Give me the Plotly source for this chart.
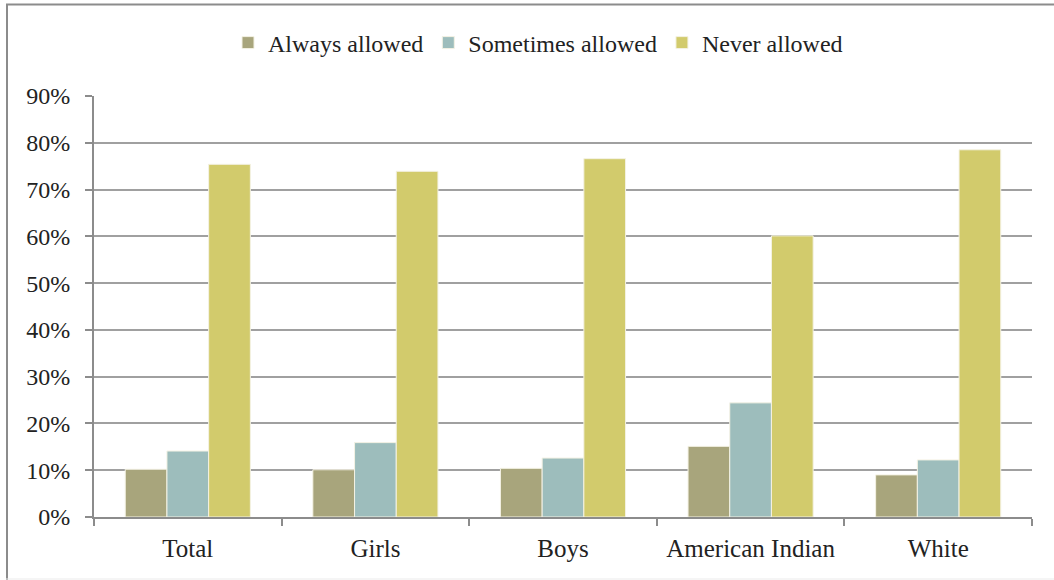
import plotly.graph_objects as go

categories = ["Total", "Girls", "Boys", "American Indian", "White"]
always_allowed = [10.2, 10.1, 10.4, 15.1, 9.0]
sometimes_allowed = [14.1, 15.9, 12.6, 24.4, 12.2]
never_allowed = [75.4, 73.9, 76.6, 60.1, 78.5]
series_names = ["Always allowed", "Sometimes allowed", "Never allowed"]
colors = ["#A8A57C", "#9DBDBC", "#D2CB6C"]

FONT = "Liberation Serif, Times New Roman, DejaVu Serif, serif"

fig = go.Figure()
for name, vals, col in zip(series_names, [always_allowed, sometimes_allowed, never_allowed], colors):
    fig.add_trace(go.Bar(
        x=categories, y=vals, name=name,
        marker=dict(color=col, line=dict(color="#F4F2E4", width=1)),
    ))

W, H = 1054, 580
L, R, T, B = 94, 22, 96, 63
pw, ph = W - L - R, H - T - B

def px_x(px):
    return (px - L) / pw

def px_y(py):
    return (H - B - py) / ph

frame = "#8C8C8C"
fig.update_layout(
    width=W, height=H,
    margin=dict(l=L, r=R, t=T, b=B),
    paper_bgcolor="white", plot_bgcolor="white",
    barmode="group", bargap=0.333, bargroupgap=0,
    font=dict(family=FONT, size=24, color="#222222"),
    legend=dict(orientation="h", x=px_x(538), xanchor="center",
                y=px_y(43), yanchor="middle",
                font=dict(family=FONT, size=24, color="#222222"),
                itemwidth=30, traceorder="normal"),
    xaxis=dict(showline=True, linecolor=frame, linewidth=2,
               ticks="outside", tickson="boundaries", ticklen=7,
               tickcolor=frame, tickwidth=2, showgrid=False,
               ticklabelstandoff=8, automargin=False,
               tickfont=dict(family=FONT, size=25, color="#222222")),
    yaxis=dict(range=[0, 90], dtick=10, ticksuffix="%",
               showline=True, linecolor=frame, linewidth=2,
               ticks="outside", ticklen=7, tickcolor=frame, tickwidth=2,
               showgrid=True, gridcolor="#A0A0A0", gridwidth=2,
               zeroline=False, ticklabelstandoff=10, automargin=False,
               tickfont=dict(family=FONT, size=24, color="#222222")),
    shapes=[
        dict(type="line", xref="paper", yref="paper",
             x0=px_x(7), x1=px_x(7), y0=px_y(580), y1=px_y(4),
             line=dict(color=frame, width=2), layer="below"),
        dict(type="line", xref="paper", yref="paper",
             x0=px_x(6), x1=px_x(1054), y0=px_y(4.5), y1=px_y(4.5),
             line=dict(color=frame, width=2), layer="below"),
        dict(type="line", xref="paper", yref="paper",
             x0=px_x(6), x1=px_x(1054), y0=px_y(579), y1=px_y(579),
             line=dict(color="#EBEBEB", width=1), layer="below"),
    ],
)

fig.write_html("out.html", config={"displayModeBar": False},
               post_script="document.body.style.margin='0';")
